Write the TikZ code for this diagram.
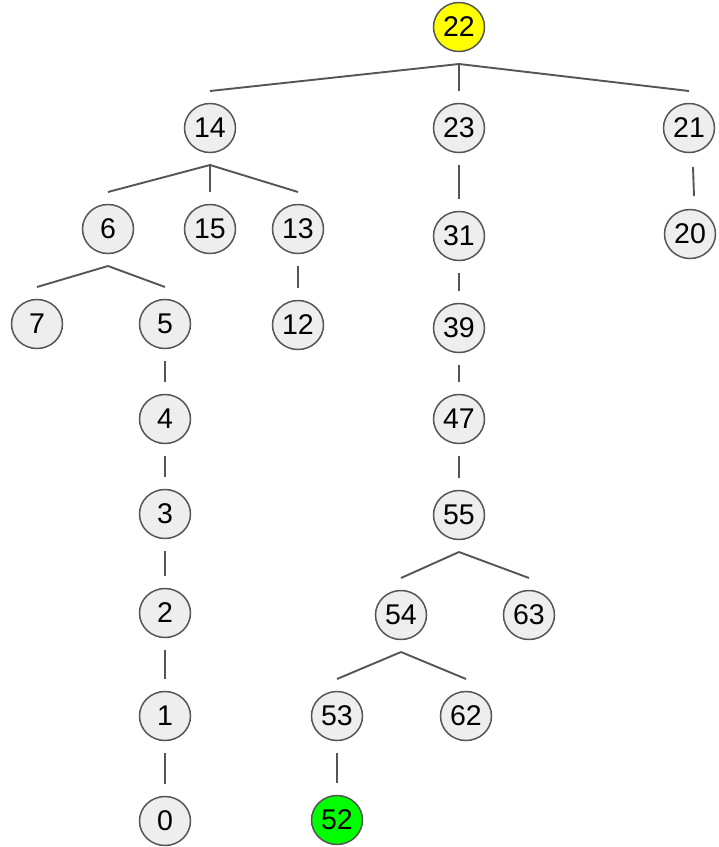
\documentclass[tikz,border=0pt]{standalone}
\usepackage{fontspec}
\setmainfont{Liberation Sans}
\usetikzlibrary{shapes.geometric,calc}
\definecolor{nodefill}{HTML}{EEEEEE}
\definecolor{linegray}{HTML}{555555}
\definecolor{hlyellow}{HTML}{FFFF00}
\definecolor{hlgreen}{HTML}{00FF00}
\begin{document}
\begin{tikzpicture}[x=1pt,y=-1pt,
  tn/.style={ellipse,draw=linegray,line width=1.5pt,fill=nodefill,
    minimum width=51pt,minimum height=49pt,inner sep=0pt,
    font=\fontsize{28.5}{28.5}\selectfont},
  edge/.style={draw=linegray,line width=1.9pt}]
\useasboundingbox (0,0) rectangle (719,847);
% nodes
\node[tn,fill=hlyellow] (n22) at (459,27) {22};
\node[tn] (n14) at (210,128) {14};
\node[tn] (n23) at (459,128) {23};
\node[tn] (n21) at (689,128) {21};
\node[tn] (n6) at (108,229) {6};
\node[tn] (n15) at (210,229) {15};
\node[tn] (n13) at (298,229) {13};
\node[tn] (n31) at (459,236) {31};
\node[tn] (n20) at (690,234) {20};
\node[tn] (n7) at (37,324) {7};
\node[tn] (n5) at (165,324) {5};
\node[tn] (n12) at (298,325) {12};
\node[tn] (n39) at (459,328) {39};
\node[tn] (n4) at (165,419) {4};
\node[tn] (n47) at (459,419) {47};
\node[tn] (n3) at (165,514) {3};
\node[tn] (n55) at (459,515) {55};
\node[tn] (n2) at (165,613) {2};
\node[tn] (n54) at (401,615) {54};
\node[tn] (n63) at (529,615) {63};
\node[tn] (n1) at (165,716) {1};
\node[tn] (n53) at (337,716) {53};
\node[tn] (n62) at (466,716) {62};
\node[tn] (n0) at (165,821) {0};
\node[tn,fill=hlgreen] (n52) at (337,820) {52};
% edges
\newcommand{\tedge}[2]{\draw[edge] ($(#1)+(0,37)$) -- ($(#2)+(0,-37)$);}
\tedge{n22}{n14}
\tedge{n22}{n23}
\tedge{n22}{n21}
\tedge{n14}{n6}
\tedge{n14}{n15}
\tedge{n14}{n13}
\tedge{n23}{n31}
\draw[edge] ($(n21)+(4,39)$) -- ($(n20)+(4,-38)$);
\tedge{n6}{n7}
\tedge{n6}{n5}
\tedge{n13}{n12}
\tedge{n31}{n39}
\tedge{n5}{n4}
\tedge{n39}{n47}
\tedge{n4}{n3}
\tedge{n47}{n55}
\tedge{n3}{n2}
\tedge{n55}{n54}
\tedge{n55}{n63}
\tedge{n2}{n1}
\tedge{n54}{n53}
\tedge{n54}{n62}
\tedge{n1}{n0}
\tedge{n53}{n52}
\end{tikzpicture}
\end{document}
